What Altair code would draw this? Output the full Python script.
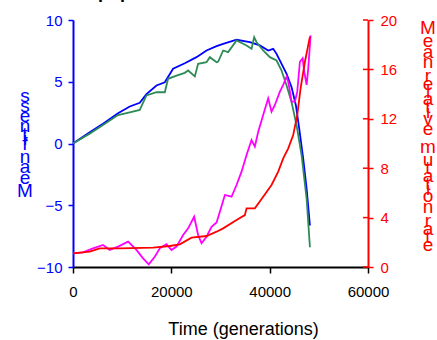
import altair as alt
import pandas as pd

# ---------------- data ----------------
t_blue = [0, 3400, 6100, 9160, 11540, 13580, 14940, 16980, 18670, 20360, 22740, 25120,
          27160, 29200, 30540, 33260, 35970, 38000, 39700, 40720, 41400, 42420, 43440,
          44460, 45340, 46020, 46830, 47520, 48190]
v_blue = [0.0, 0.92, 1.6, 2.45, 3.0, 3.3, 4.0, 4.7, 4.96, 6.05, 6.5, 6.99,
          7.53, 7.88, 8.07, 8.4, 8.2, 7.94, 7.53, 7.67, 7.26, 6.45, 5.64,
          4.56, 3.08, 1.19, -1.24, -3.67, -6.64]

t_green = [0, 3400, 6100, 9160, 11540, 13580, 14940, 16980, 18670, 19340, 21050, 22740,
           23420, 24780, 25450, 27160, 27830, 29200, 29530, 30540, 31560, 33260, 35300,
           36310, 36850, 37330, 38680, 40040, 41400, 42420, 43440, 44460, 45480, 46500,
           47520, 48190]
v_green = [0.0, 0.8, 1.5, 2.3, 2.53, 2.72, 3.89, 4.15, 4.15, 5.24, 5.5, 5.72,
           5.91, 5.43, 6.45, 6.58, 6.99, 6.58, 6.64, 7.53, 7.4, 8.34, 7.94,
           7.67, 8.61, 8.2, 7.53, 6.99, 6.72, 5.91, 4.7, 3.34, 1.46, -0.97,
           -4.48, -8.4]

t_red = [0, 3400, 5430, 9500, 16290, 19680, 21720, 24100, 27160, 29200, 30540, 33260,
         34950, 35300, 36990, 38680, 40380, 41740, 42760, 43780, 44790, 45610, 46290,
         47170, 48190]
r_red = [1.11, 1.24, 1.51, 1.51, 1.57, 1.7, 1.84, 2.38, 2.51, 2.86, 3.13, 3.8,
         4.2, 4.75, 4.75, 5.69, 6.64, 7.72, 8.8, 9.61, 10.69, 12.3, 14.47,
         16.62, 18.65]

t_mag = [0, 2030, 4070, 6110, 7470, 9160, 11200, 12900, 14250, 15410, 16630, 17650,
         19010, 20030, 21050, 22400, 23420, 24640, 25450, 26140, 27160, 28180, 29200,
         29870, 30890, 32250, 33260, 34280, 35300, 36310, 36990, 37670, 38680, 39700,
         40380, 41060, 42080, 42760, 43440, 43780, 44460, 45140, 45610, 46150, 46700,
         47040, 47520, 47850, 48190, 48330]
r_mag = [1.11, 1.19, 1.51, 1.78, 1.38, 1.65, 2.05, 1.38, 0.7, 0.22, 0.83, 1.51,
         1.84, 1.38, 1.65, 2.59, 3.13, 4.07, 2.59, 1.92, 2.45, 3.26, 3.6,
         4.48, 5.83, 5.69, 6.64, 7.72, 9.07, 10.28, 9.74, 10.95, 12.31, 13.66,
         12.58, 13.12, 14.2, 14.74, 15.41, 15.0, 13.39, 13.39, 14.2, 16.62, 16.9,
         15.8, 14.74, 16.1, 17.98, 18.75]

x_ticks = [0, 20000, 40000, 60000]
left_ticks = [-10, -5, 0, 5, 10]
right_ticks = [0, 4, 8, 12, 16, 20]

x_title = "Time (generations)"
left_title = "Mean fitness"
right_title = "Mean relative mutation rate"
top_title = "the population"

FONT = "Liberation Sans"
W, H = 295, 247

# Arial-metric advance widths (per 1000 em) for the stacked axis titles
ADV = {"M": 833, "e": 556, "a": 556, "n": 556, " ": 278, "f": 278, "i": 222,
       "t": 278, "s": 500, "r": 333, "l": 222, "v": 500, "m": 833, "u": 556, "o": 556}
TSIZE = 19


def stacked(text, start, direction):
    rows, cum = [], 0.0
    for ch in text:
        w = ADV.get(ch, 556) * TSIZE / 1000.0
        if ch != " ":
            rows.append({"ch": ch, "py": start + direction * (cum + w / 2)})
        cum += w
    return pd.DataFrame(rows)


xenc = alt.X(
    "t:Q",
    scale=alt.Scale(domain=[0, 60000], nice=False, zero=False),
    axis=alt.Axis(values=x_ticks, format="d", labelFontSize=15, labelFont=FONT,
                  labelColor="black", tickSize=6, tickWidth=1.5, tickColor="black",
                  domainColor="black", domainWidth=2, labelPadding=11, grid=False,
                  labelFlush=False, title=x_title, titleFont=FONT, titleFontSize=18,
                  titleFontWeight="normal", titleColor="black", titleX=170, titleY=67,
                  titleBaseline="alphabetic"),
)

left_axis = alt.Axis(orient="left", values=left_ticks, labelFontSize=15, labelFont=FONT,
                     labelColor="blue", tickColor="blue", domainColor="blue",
                     tickSize=5, tickWidth=1.5, domainWidth=2, labelPadding=6,
                     grid=False, title=None, labelFlush=False)
right_axis = alt.Axis(orient="right", values=right_ticks, labelFontSize=15, labelFont=FONT,
                      labelColor="red", tickColor="red", domainColor="red",
                      tickSize=5, tickWidth=1.5, domainWidth=2, labelPadding=7,
                      grid=False, title=None, labelFlush=False)

yl = alt.Y("v:Q", scale=alt.Scale(domain=[-10, 10], nice=False, zero=False), axis=left_axis)
yr = alt.Y("r:Q", scale=alt.Scale(domain=[0, 20], nice=False, zero=False), axis=right_axis)

blue = alt.Chart(pd.DataFrame({"t": t_blue, "v": v_blue})).mark_line(
    color="#0000ff", strokeWidth=1.8).encode(x=xenc, y=yl)
green = alt.Chart(pd.DataFrame({"t": t_green, "v": v_green})).mark_line(
    color="#2e8b57", strokeWidth=1.8).encode(x=xenc, y=yl)
left = alt.layer(blue, green)

mag = alt.Chart(pd.DataFrame({"t": t_mag, "r": r_mag})).mark_line(
    color="#ff00ff", strokeWidth=1.8).encode(x=xenc, y=yr)
red = alt.Chart(pd.DataFrame({"t": t_red, "r": r_red})).mark_line(
    color="#ff0000", strokeWidth=1.8).encode(x=xenc, y=yr)
inner_ticks = alt.Chart(pd.DataFrame({"r": right_ticks})).mark_rule(
    color="red", strokeWidth=1.5).encode(y=yr, x=alt.value(W - 5), x2=alt.value(W))
right = alt.layer(mag, red, inner_ticks)

ltitle = alt.Chart(stacked(left_title, 179, -1)).mark_text(
    font=FONT, fontSize=TSIZE, color="blue", align="center", baseline="middle").encode(
    x=alt.value(-48), y=alt.Y("py:Q", scale=None, axis=None), text="ch:N")
rtitle = alt.Chart(stacked(right_title, 0, 1)).mark_text(
    font=FONT, fontSize=TSIZE, color="red", align="center", baseline="middle").encode(
    x=alt.value(355), y=alt.Y("py:Q", scale=None, axis=None), text="ch:N")
ttitle = alt.Chart(pd.DataFrame({"txt": [top_title]})).mark_text(
    font=FONT, fontSize=18, fontWeight="bold", color="black", align="left",
    baseline="alphabetic").encode(x=alt.value(-7), y=alt.value(-22.5), text="txt:N")

chart = alt.layer(left, right, ltitle, rtitle, ttitle).resolve_scale(
    y="independent"
).properties(
    width=W, height=H,
    autosize=alt.AutoSizeParams(type="none"),
    padding={"left": 73, "top": 20, "right": 437 - 73 - W, "bottom": 340 - 20 - H},
    background="white",
).configure_view(stroke=None)

chart.save("out.html", embed_options={"renderer": "svg", "actions": False})
